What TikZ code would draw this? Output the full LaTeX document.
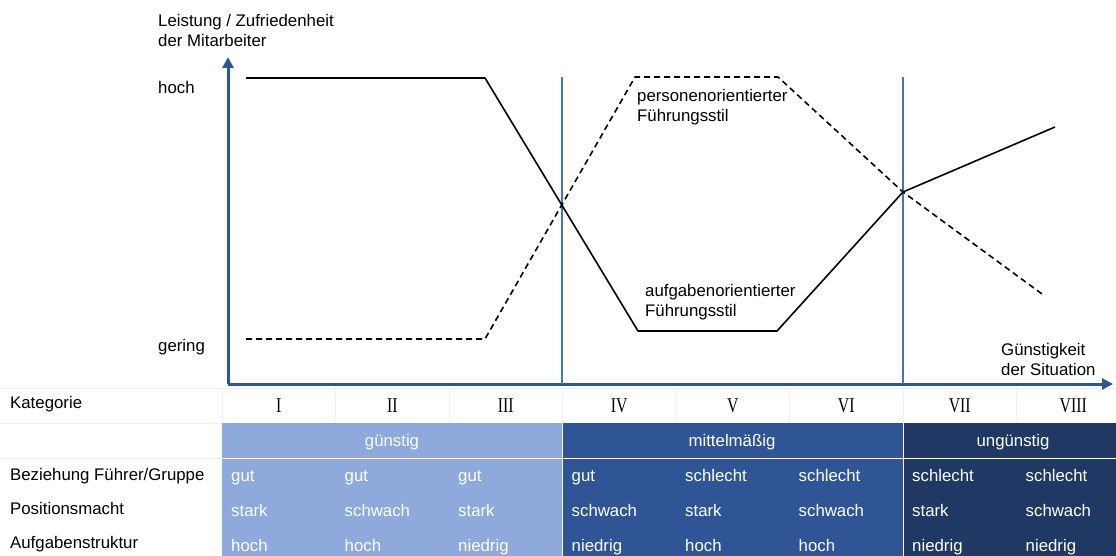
\documentclass[tikz,border=0pt]{standalone}
\usepackage{fontspec}
\setmainfont{Liberation Sans}
\newfontfamily\romanfont{Liberation Serif}
\usetikzlibrary{arrows.meta}
\definecolor{axisblue}{HTML}{2F5597}
\definecolor{sepblue}{HTML}{4472C4}
\definecolor{goodblue}{HTML}{8EA9DB}
\definecolor{midblue}{HTML}{2F5597}
\definecolor{badblue}{HTML}{203864}
\begin{document}
\begin{tikzpicture}[x=1pt,y=-1pt]
	\tikzstyle{lbl}=[anchor=west,inner sep=0pt,align=left,font=\fontsize{16.8}{20}\selectfont]
	\tikzstyle{row}=[lbl,anchor=base west]
	\tikzstyle{cell}=[row,text=white]
	\tikzstyle{group}=[inner sep=0pt,anchor=base,text=white,font=\fontsize{16.8}{20}\selectfont]
	\tikzstyle{cat}=[inner sep=0pt,anchor=base,font=\romanfont\fontsize{21}{22}\selectfont]
	\tikzstyle{axis}=[draw=axisblue,line width=3pt,-{Triangle[length=11pt,width=11pt]}]
	\tikzstyle{sep}=[draw=sepblue,line width=1.2pt]
	\tikzstyle{task}=[draw=black,line width=1.6pt,line join=round]
	\tikzstyle{person}=[task,dash pattern=on 6pt off 4pt]
	\tikzstyle{grid}=[draw=black!6,line width=0.8pt]

	\useasboundingbox (0,0) rectangle (1116,556);

	% table background
	\fill[goodblue] (222,423) rectangle (562,556);
	\fill[midblue] (562,423) rectangle (903,556);
	\fill[badblue] (903,423) rectangle (1116,556);
	\draw[white,line width=1pt] (222,458) -- (1116,458);
	\draw[white,line width=1pt] (562,423) -- (562,556);
	\draw[white,line width=1pt] (903,423) -- (903,556);
	\draw[grid] (0,388) -- (1116,388);
	\draw[grid] (0,423) -- (222,423);
	\draw[grid] (0,458) -- (222,458);
	\foreach \i in {0,...,7}
		\draw[grid] (222+\i*113.5,388) -- (222+\i*113.5,423);

	% axes
	\coordinate (o) at (228,384);
	\coordinate (ytip) at (228,57);
	\coordinate (xtip) at (1113,384);
	\draw[axis] (o) -- (ytip);
	\draw[axis] (o) -- (xtip);

	\coordinate (s1top) at (562,77);
	\coordinate (s1bot) at (562,384);
	\coordinate (s2top) at (903,77);
	\coordinate (s2bot) at (903,384);
	\draw[sep] (s1top) -- (s1bot);
	\draw[sep] (s2top) -- (s2bot);

	% aufgabenorientiert
	\coordinate (a1) at (246,78);
	\coordinate (a2) at (485,78);
	\coordinate (a3) at (638,331);
	\coordinate (a4) at (777,331);
	\coordinate (a5) at (903,192);
	\coordinate (a6) at (1055,127);
	\draw[task] (a1) -- (a2) -- (a3) -- (a4) -- (a5) -- (a6);

	% personenorientiert
	\coordinate (p1) at (246,339);
	\coordinate (p2) at (485,339);
	\coordinate (p3) at (635,77);
	\coordinate (p4) at (778,77);
	\coordinate (p5) at (903,192);
	\coordinate (p6) at (1042,294);
	\draw[person] (p1) -- (p2) -- (p3) -- (p4) -- (p5) -- (p6);

	% labels
	\node [lbl] (ylabel) at (158,30) {Leistung / Zufriedenheit\\der Mitarbeiter};
	\node [lbl] (hoch) at (158,87) {hoch};
	\node [lbl] (gering) at (158,347) {gering};
	\node [lbl] (plabel) at (637,107) {personenorientierter\\Führungsstil};
	\node [lbl] (alabel) at (645,302) {aufgabenorientierter\\Führungsstil};
	\node [lbl] (xlabel) at (1001,359) {Günstigkeit\\der Situation};

	% table
	\node [row] (kategorie) at (10,408) {Kategorie};
	\node [row] (beziehung) at (10,480) {Beziehung Führer/Gruppe};
	\node [row] (macht) at (10,514) {Positionsmacht};
	\node [row] (struktur) at (10,548) {Aufgabenstruktur};

	\foreach \r [count=\i] in {I,II,III,IV,V,VI,VII,VIII}
		\node [cat] (k\i) at (222+\i*113.5-56.75,412) {\scalebox{0.75}[1]{\r}};

	\node [group] (g1) at (392,446) {günstig};
	\node [group] (g2) at (732,446) {mittelmäßig};
	\node [group] (g3) at (1013,446) {ungünstig};

	\foreach \b/\m/\s [count=\i] in {gut/stark/hoch,gut/schwach/hoch,gut/stark/niedrig,
		gut/schwach/niedrig,schlecht/stark/hoch,schlecht/schwach/hoch,
		schlecht/stark/niedrig,schlecht/schwach/niedrig}{
		\node [cell] (b\i) at (222+\i*113.5-104.5,481) {\b};
		\node [cell] (m\i) at (222+\i*113.5-104.5,516) {\m};
		\node [cell] (s\i) at (222+\i*113.5-104.5,551) {\s};
	}
\end{tikzpicture}
\end{document}
